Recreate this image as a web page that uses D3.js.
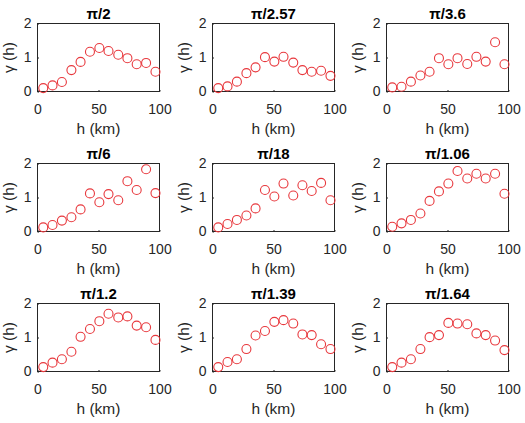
<!DOCTYPE html>
<html>
<head>
<meta charset="utf-8">
<script src="https://cdn.jsdelivr.net/npm/d3@7"></script>
<style>
  body { margin: 0; background: #fff; }
  text { font-family: "Liberation Sans", Arial, sans-serif; }
</style>
</head>
<body>
<div id="chart"></div>
<script>
(function() {
    // lag distances (km) shared by all panels
    var lags = [4.7, 12.3, 20, 27.8, 35.3, 43, 50.7, 58.2, 66.2, 73.7, 81.3, 89, 96.7];

    var titles = ["\u03c0/2", "\u03c0/2.57", "\u03c0/3.6", "\u03c0/6", "\u03c0/18", "\u03c0/1.06", "\u03c0/1.2", "\u03c0/1.39", "\u03c0/1.64"];

    var gammaPi2    = [0.10, 0.18, 0.28, 0.63, 0.87, 1.17, 1.28, 1.19, 1.08, 0.98, 0.80, 0.84, 0.58];
    var gammaPi257  = [0.10, 0.15, 0.29, 0.54, 0.71, 1.01, 0.88, 1.02, 0.85, 0.63, 0.58, 0.61, 0.46];
    var gammaPi36   = [0.12, 0.14, 0.29, 0.47, 0.58, 0.98, 0.80, 0.98, 0.81, 1.02, 0.88, 1.45, 0.80];
    var gammaPi6    = [0.12, 0.19, 0.32, 0.42, 0.65, 1.12, 0.86, 1.10, 0.92, 1.48, 1.22, 1.83, 1.13];
    var gammaPi18   = [0.12, 0.22, 0.34, 0.47, 0.68, 1.22, 1.03, 1.41, 1.06, 1.36, 1.19, 1.43, 0.92];
    var gammaPi106  = [0.14, 0.24, 0.34, 0.53, 0.90, 1.18, 1.41, 1.78, 1.56, 1.70, 1.56, 1.70, 1.11];
    var gammaPi12   = [0.13, 0.26, 0.36, 0.58, 1.02, 1.25, 1.48, 1.70, 1.59, 1.62, 1.35, 1.30, 0.93];
    var gammaPi139  = [0.13, 0.28, 0.36, 0.66, 1.06, 1.19, 1.46, 1.51, 1.41, 1.09, 1.07, 0.80, 0.66];
    var gammaPi164  = [0.13, 0.26, 0.36, 0.66, 1.01, 1.07, 1.43, 1.41, 1.39, 1.12, 1.07, 0.91, 0.63];

    var series = [gammaPi2, gammaPi257, gammaPi36, gammaPi6, gammaPi18, gammaPi106, gammaPi12, gammaPi139, gammaPi164];

    var xTicks = [0, 50, 100];
    var yTicks = [0, 1, 2];

    var W = 525, H = 423;
    var colLeft = [37.5, 212.5, 386.5], rowTop = [23.5, 163.5, 303.5];
    var pw = 122, ph = 68;

    var svg = d3.select("#chart").append("svg")
        .attr("width", W)
        .attr("height", H);

    var x = d3.scaleLinear().domain([0, 100]).range([0, pw]);
    var y = d3.scaleLinear().domain([0, 2]).range([ph, 0]);

    series.forEach(function(vals, i) {
        var g = svg.append("g")
            .attr("transform", "translate(" + colLeft[i % 3] + "," + rowTop[Math.floor(i / 3)] + ")");

        // inward ticks, matlab style
        var xa = g.append("g")
            .attr("transform", "translate(0," + ph + ")")
            .call(d3.axisBottom(x).tickValues(xTicks).tickFormat(d3.format("d"))
                .tickSizeInner(-1.5).tickSizeOuter(0).tickPadding(13));
        var ya = g.append("g")
            .call(d3.axisLeft(y).tickValues(yTicks).tickFormat(d3.format("d"))
                .tickSizeInner(-1.5).tickSizeOuter(0).tickPadding(6));
        [xa, ya].forEach(function(a) {
            a.select(".domain").remove();
            a.selectAll("line").attr("stroke", "#262626");
            a.selectAll("text").attr("fill", "#262626").style("font-size", "14px");
        });

        g.append("rect")
            .attr("x", 0).attr("y", 0)
            .attr("width", pw).attr("height", ph)
            .attr("fill", "none")
            .attr("stroke", "#262626")
            .attr("stroke-width", 1);

        g.selectAll("circle")
            .data(vals)
            .enter().append("circle")
            .attr("cx", function(d, j) { return x(lags[j]); })
            .attr("cy", function(d) { return y(d); })
            .attr("r", 4.5)
            .attr("fill", "none")
            .attr("stroke", "#e8383d")
            .attr("stroke-width", 1.1);

        g.append("text")
            .attr("x", pw / 2).attr("y", -5)
            .attr("text-anchor", "middle")
            .style("font-size", "15px")
            .style("font-weight", "bold")
            .attr("fill", "#000")
            .text(titles[i]);

        g.append("text")
            .attr("x", pw / 2).attr("y", ph + 42)
            .attr("text-anchor", "middle")
            .style("font-size", "15.5px")
            .attr("fill", "#262626")
            .text("h (km)");

        g.append("text")
            .attr("transform", "translate(-24," + (ph / 2) + ") rotate(-90)")
            .attr("text-anchor", "middle")
            .style("font-size", "15.5px")
            .attr("fill", "#262626")
            .text("\u03b3 (h)");
    });
})();
</script>
</body>
</html>
